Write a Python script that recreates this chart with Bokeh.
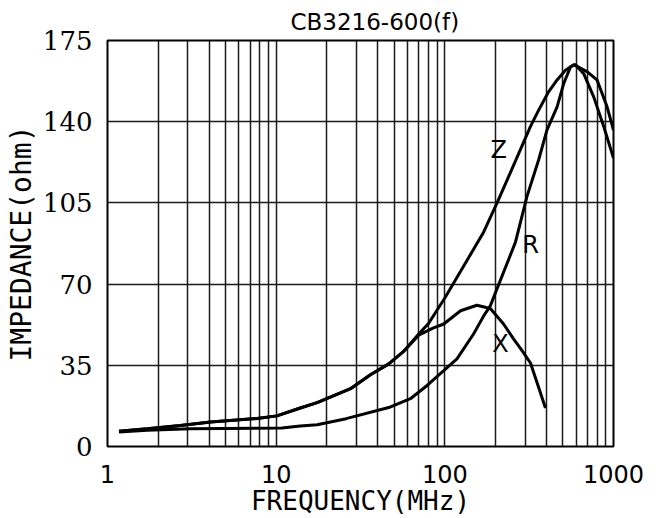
from bokeh.plotting import figure
from bokeh.models import FixedTicker
from bokeh.core.properties import value
from bokeh.embed import file_html
from bokeh.resources import INLINE

# ---- data ----
z_freq = [1.17, 1.72, 2.71, 4.08, 7.7, 10.1, 13.9, 17.5, 27.6, 36.2, 46.5, 57, 70, 80,
          100, 148, 170, 204, 262, 322, 360, 413, 463, 519, 581, 700, 800, 916, 1000]
z_ohm = [6.6, 7.7, 9.1, 10.6, 12.1, 13.2, 16.6, 18.9, 24.9, 30.9, 35.6, 41, 48.5, 53,
         64, 85, 92.5, 105, 123, 138, 145, 153, 158, 162.2, 164.6, 161.5, 157.9, 146.4, 136.4]

r_freq = [1.17, 1.72, 3.1, 10.8, 13.9, 17.5, 26, 46.5, 62.5, 78.5, 118, 148, 170, 186,
          262, 307, 360, 403, 463, 507, 556, 594, 666, 763, 876, 1000]
r_ohm = [6.3, 7.0, 7.7, 8.0, 8.8, 9.4, 12, 16.8, 20.6, 26.3, 37.8, 48.5, 56.3, 60.6,
         88, 107.8, 123.6, 136.4, 146.4, 156.5, 163.6, 164.6, 160.7, 150.7, 137.8, 124.3]

x_freq = [1.17, 1.72, 2.71, 4.08, 7.7, 10.1, 13.9, 17.5, 27.6, 36.2, 46.5, 57, 70, 85,
          98.5, 124, 155, 186, 223, 256, 287, 322, 360, 395]
x_ohm = [6.6, 7.7, 9.1, 10.6, 12.1, 13.2, 16.6, 18.9, 24.9, 30.9, 35.6, 41, 48, 51,
         52.8, 58.5, 60.9, 59.5, 52.8, 46.3, 41.3, 36, 25.4, 16.6]

y_ticks = [0, 35, 70, 105, 140, 175]
x_ticks = [1, 10, 100, 1000]
x_tick_labels = ["1", "10", "100", "1000"]
x_minor = [m * 10 ** d for d in range(3) for m in range(2, 10)]

curve_names = ["Z", "R", "X"]
name_freq = [209, 322, 214]
name_ohm = [128, 87, 44]

p = figure(width=654, height=518, x_axis_type="log", x_range=(1, 1000), y_range=(0, 175),
           output_backend="svg", toolbar_location=None,
           min_border_left=107, min_border_right=41, min_border_top=40, min_border_bottom=70)

p.background_fill_color = "white"
p.border_fill_color = "white"
p.outline_line_color = "black"
p.outline_line_width = 2
p.outline_line_alpha = 1

p.title.text = "CB3216-600(f)"
p.title.align = "left"
p.title.offset = 183
p.title.standoff = 12
p.title.text_font = "DejaVu Sans"
p.title.text_font_size = "23px"
p.title.text_font_style = "normal"
p.title.text_color = "black"

p.xaxis.ticker = FixedTicker(ticks=x_ticks, minor_ticks=x_minor)
p.xaxis.major_label_overrides = dict(zip(x_ticks, x_tick_labels))
p.yaxis.ticker = FixedTicker(ticks=y_ticks)

for ax in (p.xaxis[0], p.yaxis[0]):
    ax.axis_line_color = None
    ax.major_tick_line_color = None
    ax.minor_tick_line_color = None
    ax.major_tick_out = 0
    ax.minor_tick_out = 0
    ax.major_label_text_color = "black"
    ax.axis_label_text_color = "black"
    ax.axis_label_text_font_style = "normal"

p.xaxis.axis_label = "FREQUENCY(MHz)"
p.xaxis.axis_label_text_font = "DejaVu Sans Mono"
p.xaxis.axis_label_text_font_size = "26px"
p.xaxis.axis_label_standoff = 0
p.xaxis.major_label_text_font = "DejaVu Sans"
p.xaxis.major_label_text_font_size = "24px"
p.xaxis.major_label_standoff = 18

p.yaxis.axis_label = "IMPEDANCE(ohm)"
p.yaxis.axis_label_text_font = "DejaVu Sans Mono"
p.yaxis.axis_label_text_font_size = "28px"
p.yaxis.axis_label_standoff = 2
p.yaxis.major_label_text_font = "DejaVu Serif"
p.yaxis.major_label_text_font_size = "26px"
p.yaxis.major_label_standoff = 15

p.xgrid.grid_line_color = "#1a1a1a"
p.xgrid.grid_line_width = 1.5
p.xgrid.minor_grid_line_color = "#1a1a1a"
p.xgrid.minor_grid_line_width = 1.5
p.ygrid.grid_line_color = "#1a1a1a"
p.ygrid.grid_line_width = 1.5

p.line(z_freq, z_ohm, line_color="black", line_width=3)
p.line(r_freq, r_ohm, line_color="black", line_width=3)
p.line(x_freq, x_ohm, line_color="black", line_width=3)

p.text(x=name_freq, y=name_ohm, text=curve_names, text_font=value("DejaVu Sans"),
       text_font_size="24px", text_align="center", text_baseline="middle",
       text_color="black")

open("out.html", "w").write(file_html(p, INLINE))
